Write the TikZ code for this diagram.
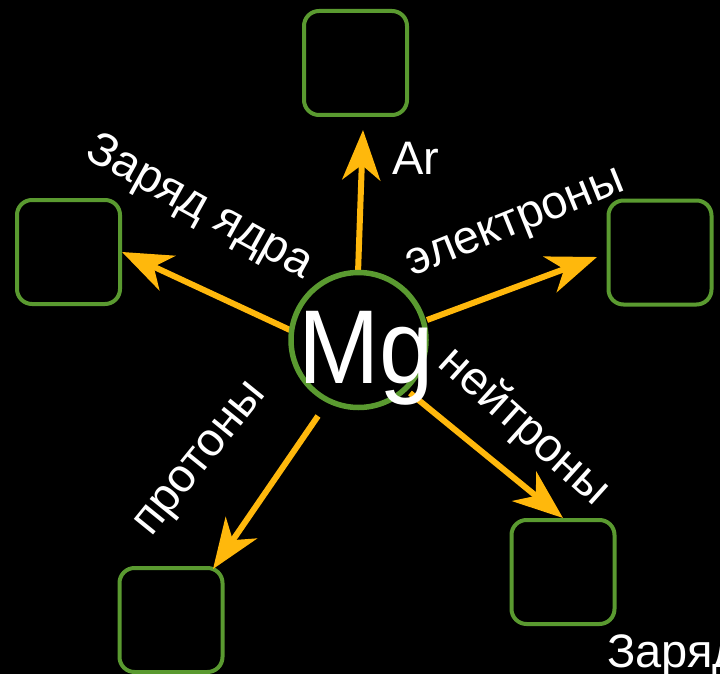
\documentclass[tikz,border=0pt]{standalone}
\usepackage{fontspec}
\setmainfont{Liberation Sans}
\usetikzlibrary{arrows.meta}
\definecolor{boxgreen}{RGB}{90,154,48}
\definecolor{arrorange}{RGB}{255,184,12}
\tikzset{
  box/.style={draw=boxgreen, line width=4pt, rounded corners=15pt, minimum width=103pt, minimum height=104pt, inner sep=0pt},
  arr/.style={draw=arrorange, line width=6pt, -{Stealth[length=50pt, width=38pt, inset=15pt]}},
  lbl/.style={text=white, font=\fontsize{47pt}{47pt}\selectfont, inner sep=0pt},
}
\begin{document}
\begin{tikzpicture}[x=1pt, y=-1pt]
\fill[black] (0,0) rectangle (720,674);
\useasboundingbox (0,0) rectangle (720,674);
% boxes
\node[box] (top) at (355.5,63) {};
\node[box] (left) at (68.5,252) {};
\node[box] (right) at (660,252.5) {};
\node[box] (br) at (563,572) {};
\node[box] (bl) at (171,620) {};
% arrow end points
\coordinate (sU) at (358,273);
\coordinate (tU) at (363,130);
\coordinate (sL) at (290,330);
\coordinate (sR) at (427,320);
\coordinate (tR) at (597,257);
\coordinate (sBR) at (410,393);
\coordinate (sBL) at (318,416);
\coordinate (tBL) at (213,569);
\draw[arr] (sU) -- (tU);
\draw[arr] (sL) -- (left.east);
\draw[arr] (sR) -- (tR);
\draw[arr] (sBR) -- (br.north);
\draw[arr] (sBL) -- (tBL);
% centre
\node[circle, draw=boxgreen, line width=5.5pt, minimum size=135pt, inner sep=0pt] (mg) at (358.5,340) {};
\node[text=white, font=\fontsize{105pt}{105pt}\selectfont, inner sep=0pt, anchor=base] (mgtext) at (366,383) {\scalebox{0.93}[1]{Mg}};
% labels
\node[lbl, anchor=base west] (ar) at (392,175) {Ar};
\node[lbl, rotate=-29] (charge) at (199,208) {Заряд ядра};
\node[lbl, rotate=22] (el) at (517,226) {электроны};
\node[lbl, rotate=-42] (ne) at (524,427) {нейтроны};
\node[lbl, rotate=51] (pr) at (203,461) {протоны};
\node[lbl, anchor=base west] (charge2) at (607,667) {Заряд};
\end{tikzpicture}
\end{document}
